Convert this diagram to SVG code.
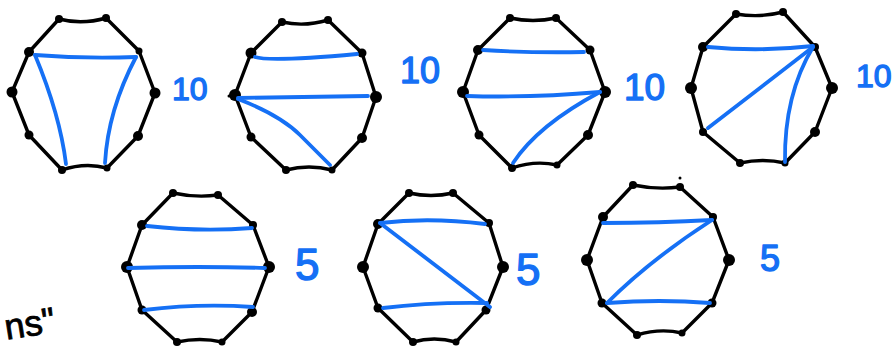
<svg xmlns="http://www.w3.org/2000/svg" width="892" height="350" viewBox="0 0 892 350">
<style>
.poly{fill:none;stroke:#000;stroke-width:3.4;stroke-linejoin:round;stroke-linecap:round}
.v{fill:#000}
.ch{fill:none;stroke:#1570f5;stroke-width:3.8;stroke-linecap:round;stroke-linejoin:round}
.num{fill:#1570f5;stroke:#1570f5;stroke-width:1.4;stroke-linejoin:round;font-family:"Liberation Sans","DejaVu Sans",sans-serif}
.hw{fill:#000;stroke:#000;stroke-width:0.8;font-family:"Liberation Sans","DejaVu Sans",sans-serif}
</style>
<rect width="892" height="350" fill="#fff"/>

<g id="d1">
<path class="poly" d="M59,19 Q82,25 106,18 L139,51 L155,93 L138,136 L107,168 Q85,162 62,170 L29,135 L12,92 L29,52 Z"/>
<g class="v"><circle cx="59" cy="19" r="4"/><circle cx="106" cy="18" r="4"/><circle cx="139" cy="51" r="3.5"/><circle cx="155" cy="93" r="5.5"/><circle cx="138" cy="136" r="5"/><circle cx="107" cy="168" r="3.5"/><circle cx="62" cy="170" r="4"/><circle cx="29" cy="135" r="4.5"/><circle cx="12" cy="92" r="5.5"/><circle cx="29" cy="52" r="5"/></g>
<text class="num" x="172" y="100" font-size="32">10</text>
</g>

<g id="d2">
<path class="poly" d="M282,22 Q305,27 328,20 L362,53 L376,97 L362,138 L332,170 Q309,164 286,170 L251,137 L235,95 L251,53 Z"/>
<g class="v"><circle cx="282" cy="22" r="4"/><circle cx="328" cy="20" r="4"/><circle cx="362" cy="53" r="4.5"/><circle cx="376" cy="97" r="6"/><circle cx="362" cy="138" r="5"/><circle cx="332" cy="170" r="3.5"/><circle cx="286" cy="170" r="4"/><circle cx="251" cy="137" r="4.5"/><circle cx="235" cy="95" r="6"/><circle cx="251" cy="53" r="5.5"/></g>
<text class="num" x="400" y="83" font-size="36">10</text>
</g>

<g id="d3">
<path class="poly" d="M510,18 Q533,23 556,18 L590,50 L605,92 L588,135 L557,165 Q535,160 512,168 L479,135 L463,92 L478,50 Z"/>
<g class="v"><circle cx="510" cy="18" r="4"/><circle cx="556" cy="18" r="4"/><circle cx="590" cy="50" r="4.5"/><circle cx="605" cy="92" r="6"/><circle cx="588" cy="135" r="5"/><circle cx="557" cy="165" r="3.5"/><circle cx="512" cy="168" r="4"/><circle cx="479" cy="135" r="4.5"/><circle cx="463" cy="92" r="6"/><circle cx="478" cy="50" r="5"/></g>
<text class="num" x="624" y="100" font-size="37">10</text>
</g>

<g id="d4">
<path class="poly" d="M736,14 Q760,18 783,12 L815,47 L832,88 L815,132 L785,163 Q763,158 740,163 L703,132 L691,88 L703,47 Z"/>
<g class="v"><circle cx="736" cy="14" r="4"/><circle cx="783" cy="12" r="4"/><circle cx="815" cy="47" r="4"/><circle cx="832" cy="88" r="6"/><circle cx="815" cy="132" r="5"/><circle cx="785" cy="163" r="3.5"/><circle cx="740" cy="163" r="4"/><circle cx="703" cy="132" r="4"/><circle cx="691" cy="88" r="6"/><circle cx="703" cy="47" r="5"/></g>
<text class="num" x="856" y="87" font-size="32">10</text>
</g>

<g id="d5">
<path class="poly" d="M173,193 Q196,198 218,195 L253,225 L269,267 L252,312 L222,342 Q200,337 177,342 L142,310 L127,267 L142,225 Z"/>
<g class="v"><circle cx="173" cy="193" r="4"/><circle cx="218" cy="195" r="4"/><circle cx="253" cy="225" r="4"/><circle cx="269" cy="267" r="6"/><circle cx="252" cy="312" r="5"/><circle cx="222" cy="342" r="3.5"/><circle cx="177" cy="342" r="4"/><circle cx="142" cy="310" r="4.5"/><circle cx="127" cy="267" r="6"/><circle cx="142" cy="225" r="5"/></g>
<text class="num" x="295" y="280" font-size="44">5</text>
</g>

<g id="d6">
<path class="poly" d="M409,193 Q431,198 453,193 L489,223 L503,267 L486,310 L456,342 Q434,336 413,342 L378,308 L363,267 L378,224 Z"/>
<g class="v"><circle cx="409" cy="193" r="4"/><circle cx="453" cy="193" r="4"/><circle cx="489" cy="223" r="4"/><circle cx="503" cy="267" r="6"/><circle cx="486" cy="310" r="4.5"/><circle cx="456" cy="342" r="3.5"/><circle cx="413" cy="342" r="4"/><circle cx="378" cy="308" r="4.5"/><circle cx="363" cy="267" r="6"/><circle cx="378" cy="224" r="5"/></g>
<text class="num" x="516" y="285" font-size="44">5</text>
</g>

<g id="d7">
<path class="poly" d="M633,185 Q657,190 680,187 L713,217 L729,260 L712,303 L682,333 Q660,328 637,335 L602,303 L587,260 L603,217 Z"/>
<g class="v"><circle cx="633" cy="185" r="4"/><circle cx="680" cy="187" r="4"/><circle cx="713" cy="217" r="4"/><circle cx="729" cy="260" r="6"/><circle cx="712" cy="303" r="4.5"/><circle cx="682" cy="333" r="3.5"/><circle cx="637" cy="335" r="4"/><circle cx="602" cy="303" r="4.5"/><circle cx="587" cy="260" r="6"/><circle cx="603" cy="217" r="5"/></g>
<text class="num" x="760" y="271" font-size="36">5</text>
</g>

<g id="chords">
<path class="ch" d="M35,55 Q85,59 136,57"/>
<path class="ch" d="M35,55 Q60,115 66,164"/>
<path class="ch" d="M136,57 Q108,110 105,163"/>

<path class="ch" d="M255,57 Q270,62 357,54"/>
<path class="ch" d="M238,98 Q300,97 368,96"/>
<path class="ch" d="M238,99 Q280,115 300,135 Q315,150 330,165"/>

<path class="ch" d="M483,50 Q530,53 584,52"/>
<path class="ch" d="M467,96 Q530,98 600,92"/>
<path class="ch" d="M600,92 Q538,125 513,163"/>

<path class="ch" d="M708,47 Q760,52 813,46"/>
<path class="ch" d="M708,128 L813,47"/>
<path class="ch" d="M785,162 Q784,95 813,47"/>

<path class="ch" d="M147,226 Q200,232 252,228"/>
<path class="ch" d="M128,268 Q200,266 265,268"/>
<path class="ch" d="M144,310 Q200,303 253,307"/>

<path class="ch" d="M380,223 Q430,217 485,224"/>
<path class="ch" d="M380,223 L490,307"/>
<path class="ch" d="M383,308 Q430,302 487,303"/>

<path class="ch" d="M603,223 Q660,223 712,220"/>
<path class="ch" d="M712,220 Q650,260 607,303"/>
<path class="ch" d="M607,303 Q660,299 710,303"/>
</g>

<g id="note">
<text class="hw" x="56" y="336" font-size="36" text-anchor="end" transform="rotate(-9 30 330)">ns"</text>
<circle cx="229" cy="96" r="1.5" fill="#000"/>
<circle cx="680" cy="178" r="1.5" fill="#000"/>
</g>
</svg>
